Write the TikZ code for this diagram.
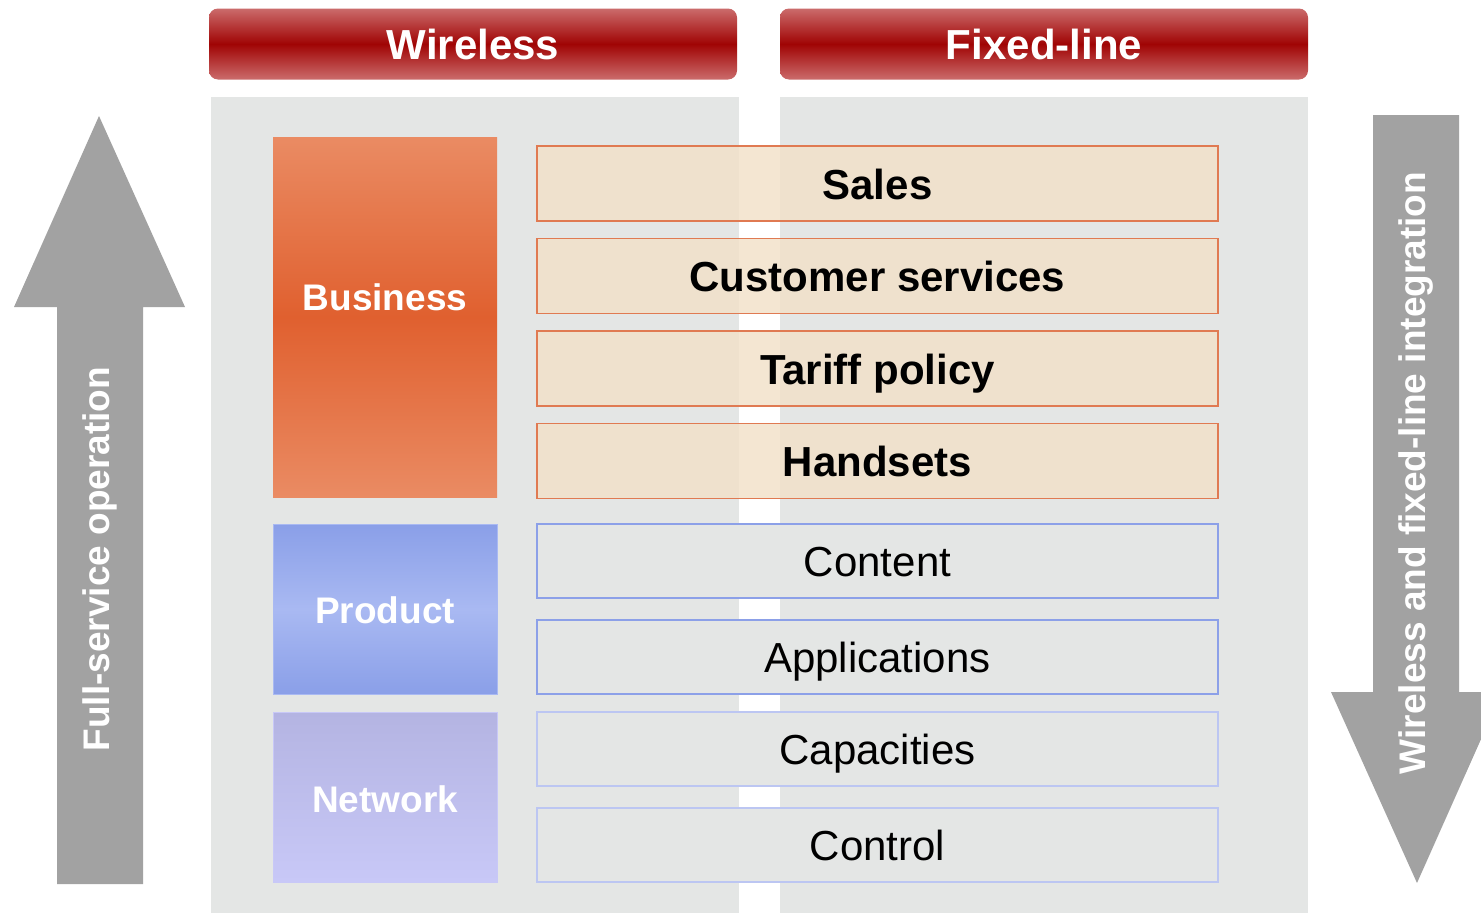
\documentclass[tikz,border=0pt]{standalone}
\usepackage{fontspec}
\setmainfont{Liberation Sans}
\definecolor{panelgray}{HTML}{E4E6E5}
\definecolor{hdrlight}{HTML}{CB6B6B}
\definecolor{hdrdark}{HTML}{A00404}
\definecolor{buslight}{HTML}{EA8B63}
\definecolor{busdark}{HTML}{E0602F}
\definecolor{prodedge}{HTML}{8A9FE8}
\definecolor{prodmid}{HTML}{A9B9F2}
\definecolor{nettop}{HTML}{B4B4E2}
\definecolor{netbot}{HTML}{C8C8F7}
\definecolor{orangefill}{HTML}{F2E1C8}
\definecolor{orangeedge}{HTML}{E07A52}
\definecolor{blueedge}{HTML}{8CA0E8}
\definecolor{paleblue}{HTML}{BCC6F2}
\definecolor{arrowgray}{HTML}{A2A2A2}
\tikzset{
  x=1pt, y=-1pt,
  hdr/.style={rounded corners=9pt, inner sep=0pt, minimum width=528pt, minimum height=71pt,
    top color=hdrlight, bottom color=hdrlight, middle color=hdrdark,
    text=white, font=\fontsize{42}{46}\selectfont\bfseries},
  panel/.style={fill=panelgray, inner sep=0pt, minimum width=528pt, minimum height=816pt},
  layer/.style={inner sep=0pt, minimum width=224pt},
  layertext/.style={inner sep=0pt, text=white, font=\fontsize{37}{40}\selectfont\bfseries},
  rowbase/.style={inner sep=0pt, minimum width=681pt, text height=38pt, text depth=7pt},
  bizrow/.style={rowbase, minimum height=75pt, draw=orangeedge, line width=1.5pt,
    fill=orangefill, fill opacity=0.82, text opacity=1, font=\fontsize{42}{46}\selectfont\bfseries},
  prodrow/.style={rowbase, minimum height=74pt, draw=blueedge, line width=1.5pt,
    fill=panelgray, font=\fontsize{42}{46}\selectfont},
  netrow/.style={rowbase, minimum height=74pt, draw=paleblue, line width=1.2pt,
    fill=panelgray, font=\fontsize{42}{46}\selectfont},
  arrowtext/.style={rotate=90, text=white, font=\fontsize{37}{40}\selectfont\bfseries}
}
\begin{document}
\begin{tikzpicture}
\useasboundingbox (0,0) rectangle (1481,913);
\clip (0,0) rectangle (1481,913);
% headers
\node[hdr] (hw) at (473,44) {Wireless};
\node[hdr] (hf) at (1044,44) {Fixed-line};
% panels
\node[panel] (pw) at (475,505) {};
\node[panel] (pf) at (1044,505) {};
% left arrow
\fill[arrowgray] (57,884) -- (57,307) -- (14,307) -- (99,116) -- (185,307) -- (143,307) -- (143,884) -- cycle;
\node[arrowtext] (ta) at (100,559) {Full-service operation};
% right arrow
\fill[arrowgray] (1373,115) -- (1459,115) -- (1459,692) -- (1502,692) -- (1417,883) -- (1331,692) -- (1373,692) -- cycle;
\node[arrowtext] (tb) at (1416,473) {Wireless and fixed-line integration};
% layers
\node[layer, minimum height=360pt, top color=buslight, bottom color=buslight, middle color=busdark] (bus) at (385,317) {};
\node[layertext] (bust) at (385,297) {Business};
\node[layer, minimum height=170pt, top color=prodedge, bottom color=prodedge, middle color=prodmid, draw=prodmid, line width=0.8pt] (prod) at (385,609) {};
\node[layertext] (prodt) at (385,610) {Product};
\node[layer, minimum height=170pt, top color=nettop, bottom color=netbot, draw=netbot, line width=0.8pt] (net) at (385,797) {};
\node[layertext] (nett) at (385,799) {Network};
% business rows
\node[bizrow] (sales) at (877.5,183.5) {Sales};
\node[bizrow] (cust) at (877.5,276) {Customer services};
\node[bizrow] (tariff) at (877.5,368.5) {Tariff policy};
\node[bizrow] (hand) at (877.5,461) {Handsets};
% product rows
\node[prodrow] (cont) at (877.5,561) {Content};
\node[prodrow] (apps) at (877.5,657) {Applications};
% network rows
\node[netrow] (cap) at (877.5,749) {Capacities};
\node[netrow] (ctrl) at (877.5,845) {Control};
\end{tikzpicture}
\end{document}
